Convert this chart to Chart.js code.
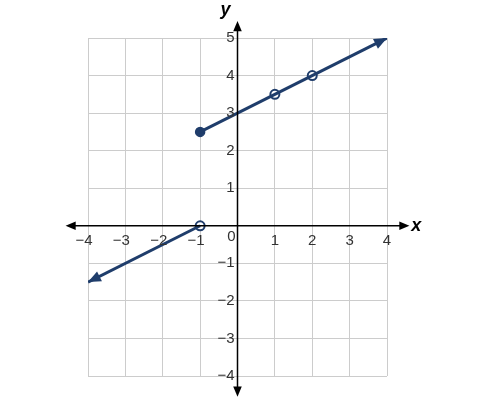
<!DOCTYPE html><html><head><script src="https://cdn.jsdelivr.net/npm/chart.js"></script>
<style>body{margin:0;background:#fff}#w{width:487px;height:401px}</style></head><body><div id="w"><canvas id="c"></canvas></div>
<script>
const xTicks=[-4,-3,-2,-1,1,2,3,4];
const yTicks=[-4,-3,-2,-1,1,2,3,4,5];
const leftLine=[{x:-1,y:0},{x:-4,y:-1.5}];
const rightLine=[{x:-1,y:2.5},{x:4,y:5}];
const closedPts=[{x:-1,y:2.5}];
const openPts=[{x:1,y:3.5},{x:2,y:4},{x:-1,y:0}];
const blue='#1f3d6b';
function arrow(ctx,x1,y1,x2,y2,size,color){const a=Math.atan2(y2-y1,x2-x1);ctx.save();ctx.fillStyle=color;ctx.beginPath();ctx.moveTo(x2,y2);ctx.lineTo(x2-size*Math.cos(a-0.4),y2-size*Math.sin(a-0.4));ctx.lineTo(x2-size*Math.cos(a+0.4),y2-size*Math.sin(a+0.4));ctx.closePath();ctx.fill();ctx.restore();}
const axesPlugin={id:'axes',afterDatasetsDraw(ch){const ctx=ch.ctx,xs=ch.scales.x,ys=ch.scales.y;const X=v=>xs.getPixelForValue(v),Y=v=>ys.getPixelForValue(v);
ctx.save();ctx.strokeStyle='#000';ctx.lineWidth=1.5;
ctx.beginPath();ctx.moveTo(X(-4.4),Y(0));ctx.lineTo(X(4.45),Y(0));ctx.moveTo(X(0),Y(5.3));ctx.lineTo(X(0),Y(-4.4));ctx.stroke();
arrow(ctx,X(-4),Y(0),X(-4.6),Y(0),11,'#000');arrow(ctx,X(4),Y(0),X(4.6),Y(0),11,'#000');
arrow(ctx,X(0),Y(5),X(0),Y(5.45),11,'#000');arrow(ctx,X(0),Y(-4),X(0),Y(-4.55),11,'#000');
ctx.fillStyle='#333';ctx.font='15px "Liberation Sans", Arial';ctx.textAlign='center';ctx.textBaseline='top';
xTicks.forEach(v=>ctx.fillText(v<0?'\u2212'+(-v):String(v),X(v)-(v<0?4:0),Y(0)+8));
ctx.textAlign='right';ctx.textBaseline='middle';
yTicks.forEach(v=>ctx.fillText(v<0?'\u2212'+(-v):String(v),X(0)-3,Y(v)));
ctx.fillText('0',X(0)-2,Y(0)+11);
ctx.fillStyle='#000';ctx.font='italic bold 18px "Liberation Sans", Arial';ctx.textAlign='left';ctx.fillText('x',X(4.65),Y(0));
ctx.textAlign='center';ctx.fillText('y',X(0)-12,Y(5.75));
[[leftLine,blue],[rightLine,blue]].forEach(([l])=>arrow(ctx,X(l[0].x),Y(l[0].y),X(l[1].x),Y(l[1].y),14,blue));
ctx.restore();}};
new Chart(document.getElementById('c'),{type:'scatter',data:{datasets:[
{data:leftLine,showLine:true,borderColor:blue,borderWidth:3,pointRadius:0},
{data:rightLine,showLine:true,borderColor:blue,borderWidth:3,pointRadius:0},
{data:closedPts,pointRadius:4.5,pointBackgroundColor:blue,pointBorderColor:blue,borderWidth:1.5},
{data:openPts,pointRadius:4.5,pointBackgroundColor:'#fff',pointBorderColor:blue,pointBorderWidth:2}]},
plugins:[axesPlugin],
options:{responsive:true,maintainAspectRatio:false,animation:false,layout:{padding:{left:88,right:100,top:38,bottom:25}},
plugins:{legend:{display:false},tooltip:{enabled:false}},
scales:{x:{type:'linear',min:-4,max:4,ticks:{display:false,stepSize:1},border:{display:false},grid:{color:'#cccccc',drawTicks:false,lineWidth:1}},
y:{type:'linear',min:-4,max:5,ticks:{display:false,stepSize:1},border:{display:false},grid:{color:'#cccccc',drawTicks:false,lineWidth:1}}}}});
</script></body></html>
